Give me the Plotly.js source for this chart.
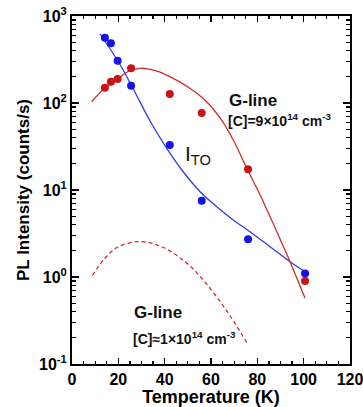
<!DOCTYPE html>
<html>
<head>
<meta charset="utf-8">
<script src="https://cdn.plot.ly/plotly-3.0.1.min.js"></script>
<style>html,body{margin:0;padding:0;background:#fff}#chart{width:363px;height:407px}</style>
</head>
<body>
<div id="chart"></div>
<script>
// Measured points
var tempPts = [14.2, 16.8, 19.7, 25.5, 42.2, 56.0, 76.0, 100.6];
var itoPts = [564, 485, 306, 158, 32.9, 7.5, 2.71, 1.10];
var gLinePts = [150, 176, 189, 251, 127, 77, 17.3, 0.90];

// Fit curve for I_TO
var itoFitT = [12.1, 20.0, 25.8, 33.7, 40.9, 48.0, 55.3, 62.5, 69.6, 76.8, 85.5, 94.1, 102.3];
var itoFitI = [621, 298, 157, 62.1, 30.1, 16.2, 9.55, 6.42, 4.52, 3.32, 2.23, 1.50, 1.08];

// Fit curve for G-line, [C]=9e14
var gFitT = [8.5, 14.2, 19.7, 24.2, 29.4, 33.7, 38.0, 43.7, 50.9, 58.1, 63.9, 69.6, 75.4, 81.2, 85.5, 94.1, 100.6];
var gFitI = [103.5, 148.6, 188.8, 230, 250.6, 243.6, 227, 192, 147.6, 103.5, 67.3, 37.6, 17.9, 8.77, 4.93, 1.50, 0.569];

// Predicted G-line curve, [C]~1e14 (dashed)
var gLowT = [8.8, 14.2, 20.0, 29.4, 38.7, 48.8, 56.0, 66.0, 75.4];
var gLowI = [1.04, 1.64, 2.23, 2.55, 2.23, 1.50, 0.966, 0.437, 0.177];

var yTickVals = [0.1, 1, 10, 100, 1000];
var yTickText = ['10<sup>-1</sup>', '10<sup>0</sup>', '10<sup>1</sup>', '10<sup>2</sup>', '10<sup>3</sup>'];
var xTickVals = [0, 20, 40, 60, 80, 100, 120];

var BLUE = 'rgb(20,20,230)';
var BLUE_L = 'rgb(50,60,225)';
var RED = 'rgb(200,20,20)';
var RED_L = 'rgb(205,45,45)';

var minorVals = [];
for (var d = -1; d < 3; d++) {
  for (var k = 2; k <= 9; k++) minorVals.push(k * Math.pow(10, d));
}

var traces = [
  {x: itoFitT, y: itoFitI, mode: 'lines', line: {color: BLUE_L, width: 1.3, shape: 'spline', smoothing: 1}, hoverinfo: 'skip'},
  {x: gFitT, y: gFitI, mode: 'lines', line: {color: RED_L, width: 1.3, shape: 'spline', smoothing: 1}, hoverinfo: 'skip'},
  {x: gLowT, y: gLowI, mode: 'lines', line: {color: RED_L, width: 1.3, dash: '4px,3px', shape: 'spline', smoothing: 1}, hoverinfo: 'skip'},
  {x: tempPts, y: itoPts, mode: 'markers', marker: {color: BLUE, size: 8}},
  {x: tempPts, y: gLinePts, mode: 'markers', marker: {color: RED, size: 8}}
];

var FONT = 'Liberation Sans, Arial, sans-serif';
var layout = {
  width: 363, height: 407,
  margin: {l: 72, r: 13, t: 16, b: 43},
  paper_bgcolor: '#fff', plot_bgcolor: '#fff',
  showlegend: false,
  font: {family: FONT, color: '#000'},
  xaxis: {
    range: [0, 120], tickmode: 'array', tickvals: xTickVals,
    ticks: 'inside', ticklen: 6, tickwidth: 1.5, tickcolor: '#000',
    showline: true, linewidth: 2, linecolor: '#000', mirror: 'ticks',
    showgrid: false, zeroline: false, ticklabeloverflow: 'allow',
    tickfont: {family: FONT, size: 16, color: '#000', weight: 'bold'},
    minor: {dtick: 5, ticks: 'inside', ticklen: 3, tickwidth: 1.2, tickcolor: '#000', showgrid: false},
    title: {text: '<b>Temperature (K)</b>', font: {family: FONT, size: 18, color: '#000'}, standoff: 3}
  },
  yaxis: {
    type: 'log', range: [-1, 3],
    tickmode: 'array', tickvals: yTickVals, ticktext: yTickText,
    ticks: 'inside', ticklen: 7, tickwidth: 1.5, tickcolor: '#000',
    showline: true, linewidth: 2, linecolor: '#000', mirror: 'ticks',
    showgrid: false, zeroline: false, ticklabeloverflow: 'allow',
    tickfont: {family: FONT, size: 16, color: '#000', weight: 'bold'},
    minor: {tickmode: 'array', tickvals: minorVals, ticks: 'inside', ticklen: 4, tickwidth: 1.2, tickcolor: '#000', showgrid: false},
    title: {text: '<b>PL Intensity (counts/s)</b>', font: {family: FONT, size: 17, color: '#000'}, standoff: 5}
  },
  annotations: [
    {x: 67.0, y: 2.03, xref: 'x', yref: 'y', xanchor: 'left', yanchor: 'middle', showarrow: false,
     text: '<b>G-line</b>', font: {family: FONT, size: 17, color: '#111'}},
    {x: 66.5, y: 1.81, xref: 'x', yref: 'y', xanchor: 'left', yanchor: 'middle', showarrow: false,
     text: '<b>[C]=9×10<sup>14</sup> cm<sup>-3</sup></b>', font: {family: FONT, size: 14, color: '#111'}},
    {x: 47.8, y: 1.40, xref: 'x', yref: 'y', xanchor: 'left', yanchor: 'middle', showarrow: false,
     text: 'I<sub>TO</sub>', font: {family: FONT, size: 21, color: '#111'}},
    {x: 25.8, y: -0.41, xref: 'x', yref: 'y', xanchor: 'left', yanchor: 'middle', showarrow: false,
     text: '<b>G-line</b>', font: {family: FONT, size: 17, color: '#111'}},
    {x: 25.4, y: -0.70, xref: 'x', yref: 'y', xanchor: 'left', yanchor: 'middle', showarrow: false,
     text: '<b>[C]≈1×10<sup>14</sup> cm<sup>-3</sup></b>', font: {family: FONT, size: 14, color: '#111'}}
  ]
};

Plotly.newPlot('chart', traces, layout, {staticPlot: true, displayModeBar: false});
</script>
</body>
</html>
